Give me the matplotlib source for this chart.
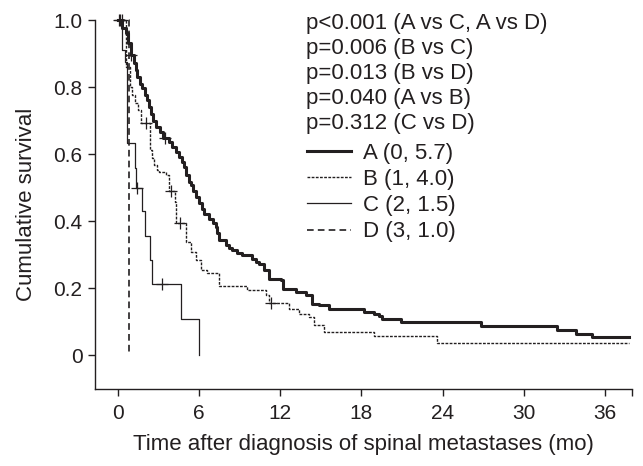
import numpy as np
import matplotlib
matplotlib.use("Agg")
import matplotlib.pyplot as plt

# Kaplan-Meier curves (time in months, cumulative survival)
a_time = [0, 0.3, 0.57, 0.76, 0.95, 1.18, 1.3, 1.43, 1.6, 1.8, 2.0, 2.17, 2.3, 2.42, 2.6, 2.79,
          3.1, 3.35, 3.75, 4.01, 4.26, 4.51, 4.7, 4.88, 5.0, 5.25, 5.37, 5.55, 5.74, 6.0, 6.23,
          6.36, 6.73, 7.0, 7.22, 7.35, 7.46, 7.96, 8.2, 8.45, 8.8, 9.19, 9.93, 10.18, 10.42,
          10.8, 11.16, 12.03, 12.2, 13.13, 13.9, 14.36, 14.86, 15.6, 18.18, 18.92, 19.3, 19.53,
          20.9, 26.8, 32.47, 33.83, 35.06, 37.8]
a_surv = [1.0, 0.975, 0.96, 0.93, 0.896, 0.871, 0.85, 0.831, 0.81, 0.796, 0.775, 0.761, 0.74,
          0.721, 0.70, 0.681, 0.665, 0.647, 0.635, 0.622, 0.607, 0.592, 0.577, 0.562, 0.537,
          0.517, 0.507, 0.49, 0.473, 0.455, 0.438, 0.423, 0.408, 0.395, 0.383, 0.365, 0.343,
          0.328, 0.319, 0.313, 0.306, 0.299, 0.289, 0.279, 0.274, 0.254, 0.229, 0.224, 0.199,
          0.189, 0.179, 0.154, 0.149, 0.139, 0.129, 0.124, 0.117, 0.11, 0.099, 0.087, 0.077,
          0.065, 0.055, 0.055]
a_cens_t = [0.12, 0.95, 3.5]
a_cens_s = [1.0, 0.896, 0.647]

b_time = [0, 0.59, 0.89, 1.03, 1.26, 1.48, 1.68, 2.34, 2.48, 2.66, 2.88, 3.03, 3.53, 3.77, 4.2,
          4.3, 5.05, 5.37, 5.74, 6.11, 6.6, 7.46, 9.56, 10.92, 11.2, 12.64, 13.38, 14.12, 14.49,
          15.23, 18.92, 23.6, 37.8]
b_surv = [1.0, 0.86, 0.80, 0.776, 0.752, 0.731, 0.693, 0.612, 0.588, 0.567, 0.552, 0.547,
          0.537, 0.49, 0.458, 0.394, 0.338, 0.308, 0.284, 0.254, 0.245, 0.206, 0.194, 0.179,
          0.156, 0.139, 0.124, 0.114, 0.090, 0.070, 0.057, 0.037, 0.037]
b_cens_t = [0.3, 2.04, 3.9, 4.56, 11.3]
b_cens_s = [1.0, 0.693, 0.49, 0.394, 0.156]

c_time = [0, 0.3, 0.5, 0.7, 1.23, 1.35, 1.79, 1.97, 2.36, 2.53, 4.68, 6.0]
c_surv = [1.0, 0.91, 0.875, 0.633, 0.56, 0.50, 0.43, 0.355, 0.285, 0.212, 0.109, 0.0]
c_cens_t = [0.05, 1.43, 3.27]
c_cens_s = [1.0, 0.50, 0.212]

d_time = [0, 0.85]
d_surv = [1.0, 0.0]

labels = ["A (0, 5.7)", "B (1, 4.0)", "C (2, 1.5)", "D (3, 1.0)"]
pvals = ["p<0.001 (A vs C, A vs D)", "p=0.006 (B vs C)", "p=0.013 (B vs D)",
         "p=0.040 (A vs B)", "p=0.312 (C vs D)"]
xticks = [0, 6, 12, 18, 24, 30, 36]
yticks = [0, 0.2, 0.4, 0.6, 0.8, 1.0]
ytick_labels = ["0", "0.2", "0.4", "0.6", "0.8", "1.0"]

ink = "#231f20"
plt.rcParams["font.family"] = ["Liberation Sans", "DejaVu Sans"]
plt.rcParams["font.size"] = 16

fig = plt.figure(figsize=(6.43, 4.66), dpi=100)
ax = fig.add_axes([95 / 643, 1 - 389 / 466, (632 - 95) / 643, (389 - 20) / 466])

styles = [
    dict(lw=2.2, ls="-"),
    dict(lw=1.0, ls=(0, (2, 1))),
    dict(lw=0.9, ls="-"),
    dict(lw=1.2, ls=(0, (4, 2.5))),
]
curves = [(a_time, a_surv, a_cens_t, a_cens_s),
          (b_time, b_surv, b_cens_t, b_cens_s),
          (c_time, c_surv, c_cens_t, c_cens_s),
          (d_time, d_surv, [], [])]

for (t, s, ct, cs), st, lab in zip(curves, styles, labels):
    ax.step(t, s, where="post", color=ink, label=lab, clip_on=False, **st)
    if ct:
        ax.plot(ct, cs, ls="none", marker="+", ms=8, mew=0.9, color=ink, clip_on=False)

ax.set_xlim(-1.7, 38)
ax.set_ylim(-0.1, 1.0)
ax.set_xticks(xticks)
ax.set_xticks([38], minor=True)
ax.set_yticks(yticks)
ax.set_yticklabels(ytick_labels)

for side in ["top", "right"]:
    ax.spines[side].set_visible(False)
for side in ["left", "bottom"]:
    ax.spines[side].set_color(ink)
    ax.spines[side].set_linewidth(1.0)
ax.tick_params(axis="both", which="both", direction="out", length=5, width=1.0,
               color=ink, labelcolor=ink, pad=4, labelsize=15)
ax.tick_params(axis="x", pad=6)

ax.set_xlabel("Time after diagnosis of spinal metastases (mo)", color=ink, labelpad=8)
ax.set_ylabel("Cumulative survival", color=ink, labelpad=12)

fig.text(306 / 643, 1 - 13 / 466, "\n".join(pvals), ha="left", va="top",
         color=ink, linespacing=1.25)

leg = ax.legend(loc="upper left", bbox_to_anchor=(307 / 643, 1 - 143 / 466),
                bbox_transform=fig.transFigure, frameon=False, handlelength=2.0,
                handletextpad=0.54, labelspacing=0.23, borderpad=0, borderaxespad=0)
for txt in leg.get_texts():
    txt.set_color(ink)

fig.savefig("out.png", dpi=100)
